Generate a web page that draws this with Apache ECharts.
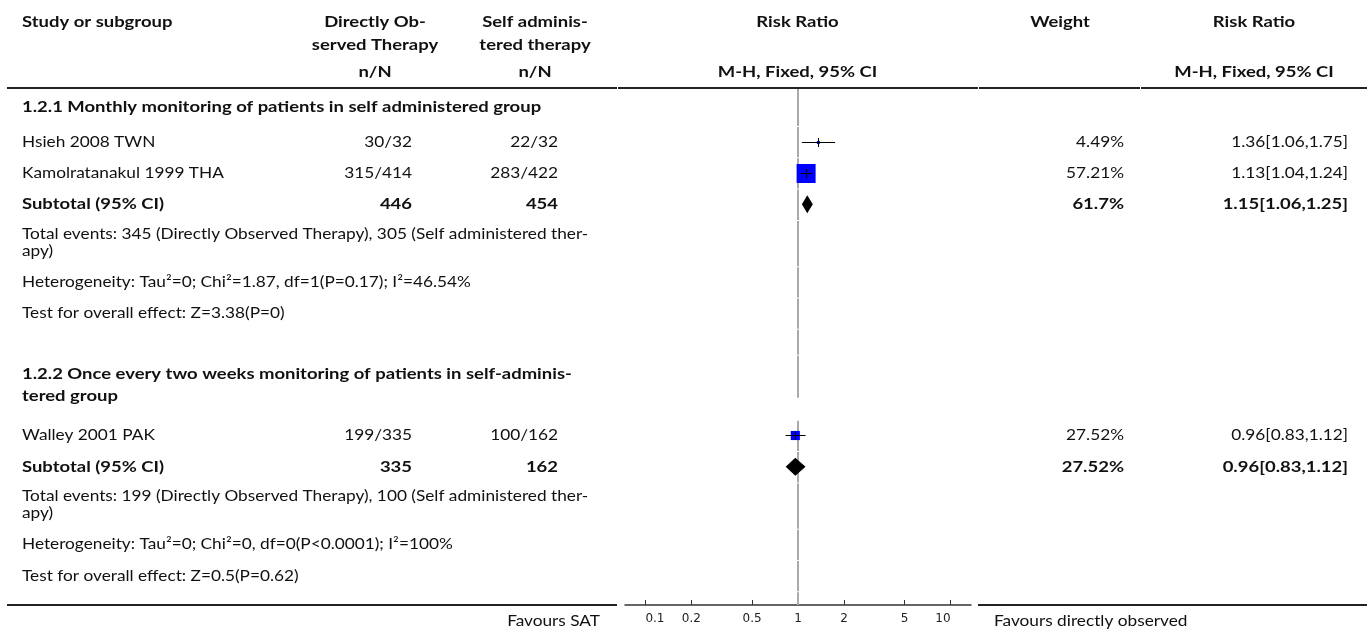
<!DOCTYPE html>
<html>
<head>
<meta charset="utf-8">
<script src="https://cdn.jsdelivr.net/npm/echarts@6/dist/echarts.min.js"></script>
<style>
  html, body { margin: 0; padding: 0; background: #fff; }
  #chart { width: 1370px; height: 634px; }
</style>
</head>
<body>
<div id="chart"></div>
<script>
// ---- Data ----------------------------------------------------------------
const groupTitles = [
  ['1.2.1 Monthly monitoring of patients in self administered group'],
  ['1.2.2 Once every two weeks monitoring of patients in self-adminis-', 'tered group']
];
const studyNames  = ['Hsieh 2008 TWN', 'Kamolratanakul 1999 THA', 'Walley 2001 PAK'];
const studyGroup  = [0, 0, 1];
const dotEvents   = ['30/32', '315/414', '199/335'];
const satEvents   = ['22/32', '283/422', '100/162'];
const studyRR     = [1.36, 1.13, 0.96];
const studyLow    = [1.06, 1.04, 0.83];
const studyHigh   = [1.75, 1.24, 1.12];
const studyWeight = [4.49, 57.21, 27.52];

const subtotalDOT    = [446, 335];
const subtotalSAT    = [454, 162];
const subtotalRR     = [1.15, 0.96];
const subtotalLow    = [1.06, 0.83];
const subtotalHigh   = [1.25, 1.12];
const subtotalWeight = [61.7, 27.52];

const totalEventsText = [
  ['Total events: 345 (Directly Observed Therapy), 305 (Self administered ther-', 'apy)'],
  ['Total events: 199 (Directly Observed Therapy), 100 (Self administered ther-', 'apy)']
];
const heterogeneityText = [
  'Heterogeneity: Tau\u00B2=0; Chi\u00B2=1.87, df=1(P=0.17); I\u00B2=46.54%',
  'Heterogeneity: Tau\u00B2=0; Chi\u00B2=0, df=0(P<0.0001); I\u00B2=100%'
];
const overallEffectText = [
  'Test for overall effect: Z=3.38(P=0)',
  'Test for overall effect: Z=0.5(P=0.62)'
];

const axisTicks = [0.1, 0.2, 0.5, 1, 2, 5, 10];
const axisRange = [0.0735, 13.6];
const nullValue = 1;
const favoursLeft = 'Favours SAT';
const favoursRight = 'Favours directly observed';

// ---- Layout --------------------------------------------------------------
const FONT = 'Lato';
const FS = 15;
const NORMAL_SX = 1.15;   // horizontal stretch of regular text
const BOLD_SX = 1.23;     // horizontal stretch of bold text
const TEXT = '#111';
const HEADER_LINE_Y = 88;
const AXIS_Y = 605;
const PLOT_LEFT = 625, PLOT_RIGHT = 971;
const COL = {
  study: 22,
  dotRight: 412, dotCenter: 375,
  satRight: 558, satCenter: 535,
  plotCenter: 797.5,
  weightRight: 1124, weightCenter: 1060,
  rrRight: 1348, rrCenter: 1254
};
const BOX_SCALE = 19 / 57.21;   // square side per % weight
const DIAMOND_H = 18;

const fmt2 = v => v.toFixed(2);
const ciLabel = (rr, lo, hi) => fmt2(rr) + '[' + fmt2(lo) + ',' + fmt2(hi) + ']';
const lg = v => Math.log10(v);

// build the table rows in display order
const rows = [];
groupTitles.forEach((title, g) => {
  if (g > 0) rows.push({ kind: 'blank' });
  rows.push({ kind: 'heading', lines: title });
  studyNames.forEach((name, i) => {
    if (studyGroup[i] === g) rows.push({ kind: 'study', i, lines: [name] });
  });
  rows.push({ kind: 'subtotal', g, lines: ['Subtotal (95% CI)'] });
  rows.push({ kind: 'note', lines: totalEventsText[g] });
  rows.push({ kind: 'note', lines: [heterogeneityText[g]] });
  rows.push({ kind: 'note', lines: [overallEffectText[g]] });
});

// vertical positions of each row
let cursor = HEADER_LINE_Y;
rows.forEach(r => {
  const n = r.lines ? r.lines.length : 1;
  r.top = cursor;
  if (r.kind === 'heading') {
    r.first = cursor + 19;
    r.gap = 22;
    r.height = 38 + 27 * (n - 1);
    r.ruleEnd = Math.min(cursor + r.height, r.first + 24);
  } else if (r.kind === 'blank') {
    r.height = 26;
    r.ruleEnd = cursor + r.height;
  } else {
    r.first = cursor + (n > 1 ? 13.6 : 15.6);
    r.gap = 17;
    r.height = 31.3 + 15 * (n - 1);
    r.ruleEnd = cursor + r.height;
  }
  cursor += r.height;
});
const tableEnd = cursor;

// ---- Text ----------------------------------------------------------------
const elements = [];
function txt(x, y, s, align, bold) {
  elements.push({
    type: 'text', x: x, y: Math.round(y), silent: true, z: 10,
    scaleX: bold ? BOLD_SX : NORMAL_SX,
    style: {
      text: s,
      font: (bold ? 'bold ' : '') + FS + 'px ' + FONT,
      fill: TEXT,
      textAlign: align || 'left', align: align || 'left',
      textVerticalAlign: 'middle', verticalAlign: 'middle'
    }
  });
}
function hline(x1, x2, y, w, color) {
  elements.push({
    type: 'line', silent: true, z: 5,
    shape: { x1: x1, y1: y, x2: x2, y2: y },
    style: { stroke: color || '#222', lineWidth: w || 2 }
  });
}

// column headers
txt(COL.study, 22, 'Study or subgroup', 'left', true);
txt(COL.dotCenter, 22, 'Directly Ob-', 'center', true);
txt(COL.dotCenter, 45, 'served Therapy', 'center', true);
txt(COL.dotCenter, 72, 'n/N', 'center', true);
txt(COL.satCenter, 22, 'Self adminis-', 'center', true);
txt(COL.satCenter, 45, 'tered therapy', 'center', true);
txt(COL.satCenter, 72, 'n/N', 'center', true);
txt(COL.plotCenter, 22, 'Risk Ratio', 'center', true);
txt(COL.plotCenter, 72, 'M-H, Fixed, 95% CI', 'center', true);
txt(COL.weightCenter, 22, 'Weight', 'center', true);
txt(COL.rrCenter, 22, 'Risk Ratio', 'center', true);
txt(COL.rrCenter, 72, 'M-H, Fixed, 95% CI', 'center', true);

// header rule, split per column block
[[7, 617], [618, 978], [979, 1140], [1141, 1367]].forEach(s => hline(s[0], s[1], HEADER_LINE_Y));
// bottom rule either side of the axis
hline(7, 617, AXIS_Y);
hline(978, 1367, AXIS_Y);

rows.forEach(r => {
  if (r.kind === 'heading') {
    r.lines.forEach((l, k) => txt(COL.study, r.first + k * r.gap, l, 'left', true));
  } else if (r.kind === 'study') {
    const i = r.i;
    txt(COL.study, r.first, studyNames[i], 'left');
    txt(COL.dotRight, r.first, dotEvents[i], 'right');
    txt(COL.satRight, r.first, satEvents[i], 'right');
    txt(COL.weightRight, r.first, studyWeight[i] + '%', 'right');
    txt(COL.rrRight, r.first, ciLabel(studyRR[i], studyLow[i], studyHigh[i]), 'right');
  } else if (r.kind === 'subtotal') {
    const g = r.g;
    txt(COL.study, r.first, r.lines[0], 'left', true);
    txt(COL.dotRight, r.first, String(subtotalDOT[g]), 'right', true);
    txt(COL.satRight, r.first, String(subtotalSAT[g]), 'right', true);
    txt(COL.weightRight, r.first, subtotalWeight[g] + '%', 'right', true);
    txt(COL.rrRight, r.first, ciLabel(subtotalRR[g], subtotalLow[g], subtotalHigh[g]), 'right', true);
  } else if (r.kind === 'note') {
    r.lines.forEach((l, k) => txt(COL.study, r.first + k * r.gap, l, 'left'));
  }
});

txt(600, 621, favoursLeft, 'right');
txt(994, 621, favoursRight, 'left');

// ---- Series data ---------------------------------------------------------
const nullRuleData = rows.map(r => [r.top, r.ruleEnd]);
nullRuleData.push([tableEnd, AXIS_Y]);

const studyData = [];
const diamondData = [];
rows.forEach(r => {
  if (r.kind === 'study') {
    const i = r.i;
    studyData.push([lg(studyRR[i]), r.first, lg(studyLow[i]), lg(studyHigh[i]), studyWeight[i]]);
  } else if (r.kind === 'subtotal') {
    const g = r.g;
    diamondData.push([lg(subtotalRR[g]), r.first, lg(subtotalLow[g]), lg(subtotalHigh[g])]);
  }
});

const tickLogs = axisTicks.map(lg);
function tickText(v) {
  const t = axisTicks.find(a => Math.abs(lg(a) - v) < 1e-6);
  return t === undefined ? '' : String(t);
}
const crisp = y => Math.round(y) + 0.5;

const option = {
  animation: false,
  backgroundColor: '#fff',
  grid: {
    left: PLOT_LEFT, width: PLOT_RIGHT - PLOT_LEFT,
    top: HEADER_LINE_Y, height: AXIS_Y - HEADER_LINE_Y,
    containLabel: false, outerBoundsMode: 'none'
  },
  xAxis: {
    type: 'value',
    min: lg(axisRange[0]), max: lg(axisRange[1]),
    splitLine: { show: false },
    axisLine: { show: true, onZero: false, lineStyle: { color: '#333', width: 1.5 } },
    axisTick: { show: true, inside: true, length: 5, customValues: tickLogs, lineStyle: { color: '#333', width: 1 } },
    axisLabel: {
      show: true, customValues: tickLogs, margin: 8,
      fontFamily: 'DejaVu Sans', fontSize: 12, color: '#222',
      alignMinLabel: 'left', alignMaxLabel: 'right',
      formatter: tickText
    }
  },
  yAxis: {
    type: 'value', inverse: true,
    min: HEADER_LINE_Y, max: AXIS_Y,
    show: false
  },
  graphic: { elements: elements },
  series: [
    {
      name: 'null rule', type: 'custom', clip: false, silent: true, z: 1,
      data: nullRuleData,
      renderItem(params, api) {
        const x = Math.round(api.coord([lg(nullValue), api.value(0)])[0]);
        const y1 = api.coord([0, api.value(0)])[1] + 1;
        const y2 = api.coord([0, api.value(1)])[1];
        return {
          type: 'line',
          shape: { x1: x, y1: y1, x2: x, y2: y2 },
          style: { stroke: '#aaaaaa', lineWidth: 2 }
        };
      }
    },
    {
      name: 'studies', type: 'custom', clip: false, silent: true, z: 3,
      data: studyData,
      renderItem(params, api) {
        const c = api.coord([api.value(0), api.value(1)]);
        const lo = api.coord([api.value(2), api.value(1)]);
        const hi = api.coord([api.value(3), api.value(1)]);
        const side = Math.max(3, api.value(4) * BOX_SCALE);
        const y = crisp(c[1]);
        const x = Math.round(c[0]) + 0.5;
        return {
          type: 'group',
          children: [
            { type: 'rect', shape: { x: c[0] - side / 2, y: y - side / 2, width: side, height: side }, style: { fill: '#0000ff' } },
            { type: 'line', shape: { x1: lo[0], y1: y, x2: hi[0], y2: y }, style: { stroke: '#000', lineWidth: 1 } },
            { type: 'line', shape: { x1: x, y1: y - 4.5, x2: x, y2: y + 4.5 }, style: { stroke: '#000', lineWidth: 1 } }
          ]
        };
      }
    },
    {
      name: 'subtotals', type: 'custom', clip: false, silent: true, z: 3,
      data: diamondData,
      renderItem(params, api) {
        const c = api.coord([api.value(0), api.value(1)]);
        const lo = api.coord([api.value(2), api.value(1)]);
        const hi = api.coord([api.value(3), api.value(1)]);
        const h = DIAMOND_H / 2;
        return {
          type: 'polygon',
          shape: { points: [[lo[0], c[1]], [c[0], c[1] - h], [hi[0], c[1]], [c[0], c[1] + h]] },
          style: { fill: '#000' }
        };
      }
    }
  ]
};

const chart = echarts.init(document.getElementById('chart'));
chart.setOption(option);
</script>
</body>
</html>
